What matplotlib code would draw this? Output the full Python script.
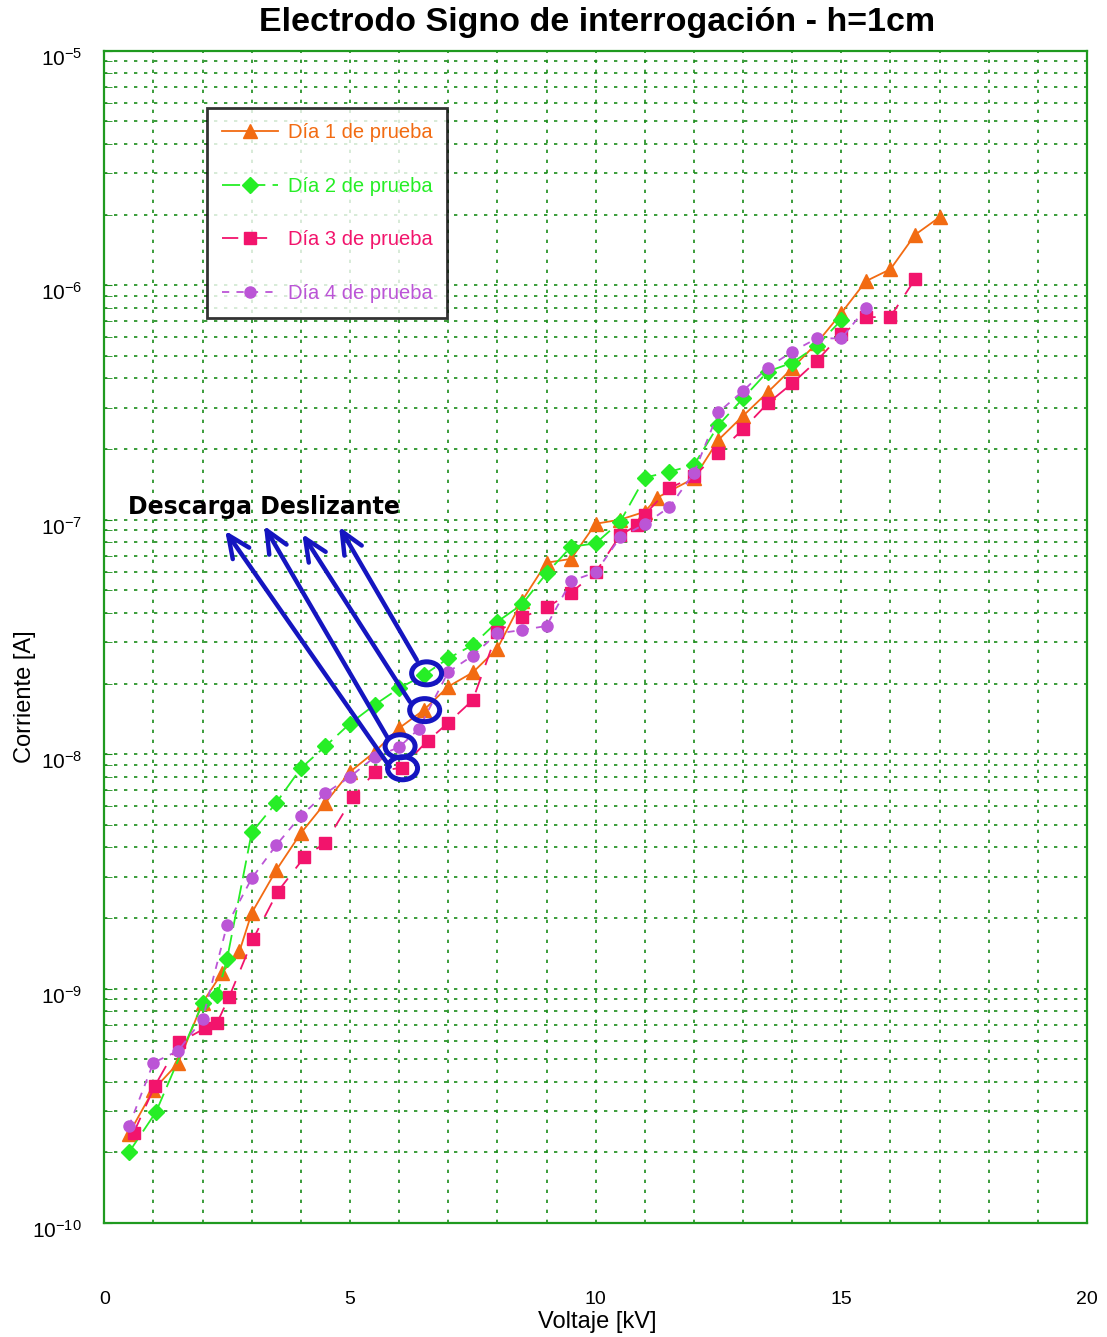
import numpy as np
import matplotlib
matplotlib.use("Agg")
import matplotlib.pyplot as plt
from matplotlib.patches import Ellipse
from matplotlib.transforms import ScaledTranslation
from matplotlib.ticker import LogLocator, MultipleLocator, FixedLocator, NullFormatter

plt.rcParams['font.family'] = ['Liberation Sans', 'DejaVu Sans']
plt.rcParams['axes.unicode_minus'] = False

# ---------------- data ----------------
v_day1 = [0.5, 1.0, 1.5, 2.0, 2.4, 2.75, 3.0, 3.5, 4.0, 4.5, 5.0, 5.5, 6.0, 6.5, 7.0, 7.5,
          8.0, 8.5, 9.0, 9.5, 10.0, 10.5, 11.0, 11.25, 12.0, 12.5, 13.0, 13.5, 14.0, 14.5,
          15.0, 15.5, 16.0, 16.5, 17.0]
i_day1 = [2.4e-10, 3.7e-10, 4.8e-10, 8.7e-10, 1.17e-9, 1.44e-9, 2.1e-9, 3.2e-9, 4.6e-9, 6.2e-9,
          8.4e-9, 1.02e-8, 1.29e-8, 1.54e-8, 1.94e-8, 2.23e-8, 2.82e-8, 4.5e-8, 6.55e-8, 6.8e-8,
          9.6e-8, 1.0e-7, 1.08e-7, 1.24e-7, 1.5e-7, 2.19e-7, 2.77e-7, 3.49e-7, 4.42e-7, 5.66e-7,
          7.6e-7, 1.04e-6, 1.17e-6, 1.64e-6, 1.95e-6]

v_day2 = [0.5, 1.05, 2.0, 2.3, 2.5, 3.0, 3.5, 4.0, 4.5, 5.0, 5.5, 6.0, 6.5, 7.0, 7.5, 8.0,
          8.5, 9.0, 9.5, 10.0, 10.5, 11.0, 11.5, 12.0, 12.5, 13.0, 13.5, 14.0, 14.5, 15.0]
i_day2 = [2.0e-10, 2.97e-10, 8.65e-10, 9.4e-10, 1.34e-9, 4.63e-9, 6.2e-9, 8.7e-9, 1.08e-8,
          1.35e-8, 1.62e-8, 1.91e-8, 2.17e-8, 2.56e-8, 2.92e-8, 3.67e-8, 4.35e-8, 5.9e-8,
          7.66e-8, 7.92e-8, 9.8e-8, 1.51e-7, 1.6e-7, 1.71e-7, 2.53e-7, 3.29e-7, 4.28e-7,
          4.67e-7, 5.5e-7, 7.1e-7]

v_day3 = [0.6, 1.03, 1.53, 2.05, 2.29, 2.54, 3.03, 3.53, 4.07, 4.5, 5.07, 5.51, 6.05, 6.58,
          7.0, 7.5, 8.0, 8.5, 9.0, 9.5, 10.0, 10.5, 10.85, 11.0, 11.5, 12.0, 12.5, 13.0, 13.5,
          14.0, 14.5, 15.0, 15.5, 16.0, 16.5]
i_day3 = [2.43e-10, 3.85e-10, 5.9e-10, 6.77e-10, 7.1e-10, 9.2e-10, 1.63e-9, 2.59e-9, 3.63e-9,
          4.19e-9, 6.58e-9, 8.4e-9, 8.75e-9, 1.14e-8, 1.36e-8, 1.7e-8, 3.33e-8, 3.83e-8,
          4.22e-8, 4.88e-8, 5.96e-8, 8.59e-8, 9.49e-8, 1.05e-7, 1.36e-7, 1.53e-7, 1.93e-7,
          2.43e-7, 3.13e-7, 3.81e-7, 4.75e-7, 6.19e-7, 7.29e-7, 7.34e-7, 1.06e-6]

v_day4 = [0.5, 1.0, 1.5, 2.0, 2.5, 3.0, 3.5, 4.0, 4.5, 5.0, 5.5, 6.0, 6.4, 7.0, 7.5, 8.0,
          8.5, 9.0, 9.5, 10.0, 10.5, 11.0, 11.5, 12.0, 12.5, 13.0, 13.5, 14.0, 14.5, 15.0, 15.5]
i_day4 = [2.58e-10, 4.83e-10, 5.42e-10, 7.4e-10, 1.87e-9, 2.95e-9, 4.09e-9, 5.45e-9, 6.8e-9,
          8.0e-9, 9.7e-9, 1.07e-8, 1.28e-8, 2.24e-8, 2.63e-8, 3.27e-8, 3.38e-8, 3.52e-8,
          5.47e-8, 5.96e-8, 8.4e-8, 9.57e-8, 1.13e-7, 1.58e-7, 2.87e-7, 3.54e-7, 4.45e-7,
          5.2e-7, 5.93e-7, 5.93e-7, 7.96e-7]

labels = ["Día 1 de prueba", "Día 2 de prueba", "Día 3 de prueba", "Día 4 de prueba"]
x_ticks = [0, 5, 10, 15, 20]

# annotation: circled points (V, I) and arrow heads / tails
circle_v = [6.56, 6.52, 6.02, 6.07]
circle_i = [2.21e-8, 1.54e-8, 1.08e-8, 8.7e-9]
tail_v = [6.36, 6.22, 5.77, 5.81]
tail_i = [2.52e-8, 1.67e-8, 1.17e-8, 8.83e-9]
head_v = [4.78, 4.03, 3.25, 2.46]
head_i = [9.33e-8, 8.69e-8, 9.42e-8, 8.97e-8]

# ---------------- figure ----------------
W, H = 1107, 1337
fig = plt.figure(figsize=(W / 100, H / 100), dpi=100)
L, R, T, B = 104.3, 1087, 50.7, 1223
ax = fig.add_axes([L / W, 1 - B / H, (R - L) / W, (B - T) / H])

c1, c2, c3, c4 = '#f26b12', '#26ee26', '#f2146c', '#bb55d6'

ax.plot(v_day1, i_day1, color=c1, lw=1.3, ls='-', marker='^', ms=10, mec=c1, label=labels[0], zorder=3)
ax.plot(v_day2, i_day2, color=c2, lw=1.3, ls=(0, (10, 4)), marker='D', ms=8, mec=c2, label=labels[1], zorder=3)
ax.plot(v_day3, i_day3, color=c3, lw=1.3, ls=(0, (9, 7)), marker='s', ms=9, mec=c3, label=labels[2], zorder=3)
ax.plot(v_day4, i_day4, color=c4, lw=1.3, ls=(0, (4, 4)), marker='o', ms=8, mec=c4, label=labels[3], zorder=3)

ax.set_yscale('log')
ax.set_xlim(0, 20)
ax.set_ylim(1e-10, 1e-5)

ax.xaxis.set_major_locator(FixedLocator(x_ticks))
ax.xaxis.set_minor_locator(MultipleLocator(1))
ax.xaxis.set_minor_formatter(NullFormatter())
ax.yaxis.set_major_locator(LogLocator(base=10, numticks=10))
ax.yaxis.set_minor_locator(LogLocator(base=10, subs=np.arange(2, 10), numticks=100))
ax.yaxis.set_minor_formatter(NullFormatter())

gcol = '#1a8c1a'
ax.grid(True, which='both', axis='both', color=gcol, ls=(0, (2, 4)), lw=1.2, zorder=0)
for s in ax.spines.values():
    s.set_color('#1f9a1f')
    s.set_linewidth(1.6)

ax.tick_params(axis='y', which='both', direction='in', color=gcol, length=6, labelsize=15, pad=16)
ax.tick_params(axis='x', which='both', direction='in', color=gcol, length=0, labelsize=14, pad=49)

# reference places the y tick labels slightly below their ticks
for lab in ax.get_yticklabels():
    lab.set_transform(lab.get_transform() + ScaledTranslation(0, -6 / 100, fig.dpi_scale_trans))

fig.text(597 / W, 1 - 1322 / H, 'Voltaje [kV]', ha='center', va='center', fontsize=17)
fig.text(25 / W, 1 - 697 / H, 'Corriente [A]', ha='center', va='center', rotation=90, fontsize=17)
fig.text(597 / W, 1 - 22 / H, 'Electrodo Signo de interrogación - h=1cm', ha='center', va='center',
         fontsize=24.5, fontweight='bold')

leg = ax.legend(loc='upper left', bbox_to_anchor=(207 / W, 1 - 108 / H), bbox_transform=fig.transFigure,
                borderaxespad=0, fontsize=14.5, frameon=True, fancybox=False, edgecolor='black',
                labelspacing=1.72, handlelength=2.8, handletextpad=0.45, borderpad=0.75)
leg.get_frame().set_linewidth(2)
for txt, col in zip(leg.get_texts(), [c1, c2, c3, c4]):
    txt.set_color(col)

# annotation
ax.text(0.0241, 0.611, 'Descarga Deslizante', transform=ax.transAxes, family='DejaVu Sans',
        fontweight='bold', fontsize=17, ha='left', va='center', zorder=6)

acol = '#1515c0'
for hv, hi, tv, ti in zip(head_v, head_i, tail_v, tail_i):
    ax.annotate('', xy=(hv, hi), xytext=(tv, ti), xycoords='data', textcoords='data',
                arrowprops=dict(arrowstyle='->,head_length=1.0,head_width=0.45', color=acol,
                                lw=3.2, mutation_scale=16, shrinkA=0, shrinkB=0), zorder=6)
for cv, ci in zip(circle_v, circle_i):
    xf = cv / 20
    yf = (np.log10(ci) + 10) / 5
    e = Ellipse((xf, yf), 30 / (R - L), 23 / (B - T), transform=ax.transAxes, fill=False,
                edgecolor=acol, lw=3.6, zorder=7)
    ax.add_patch(e)

fig.savefig('out.png', dpi=100)
